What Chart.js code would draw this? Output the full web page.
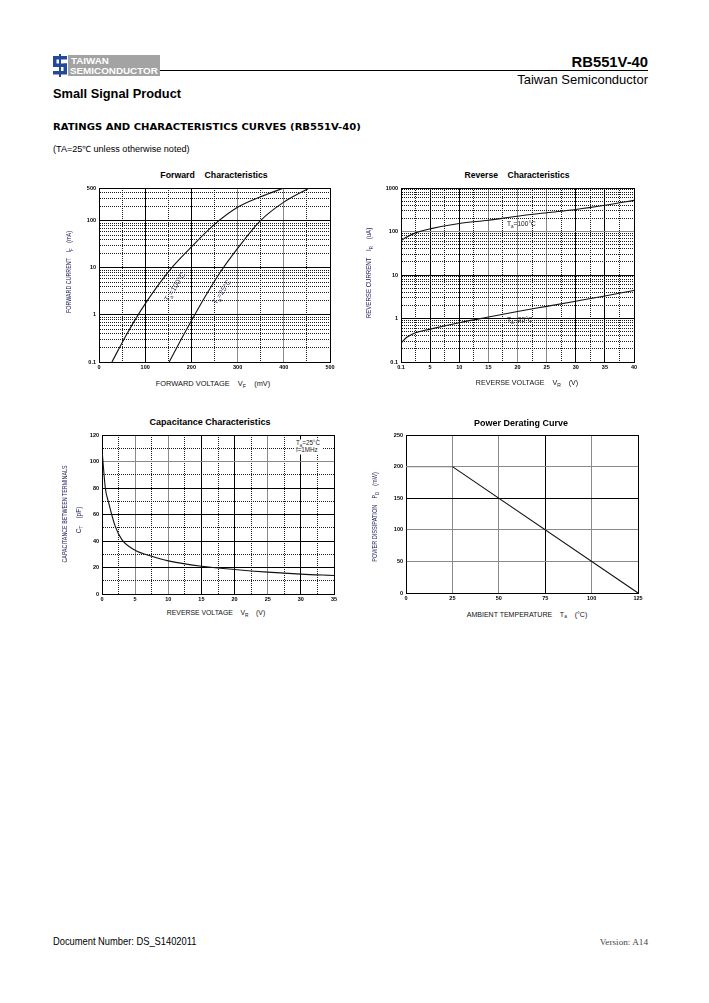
<!DOCTYPE html>
<html><head><meta charset="utf-8">
<script src="https://cdn.jsdelivr.net/npm/chart.js@4.4.1/dist/chart.umd.min.js"></script>
<style>
html,body{margin:0;padding:0;background:#fff;}
body{width:709px;height:1003px;position:relative;overflow:hidden;font-family:"Liberation Sans",Arial,sans-serif;color:#000;}
.t{position:absolute;white-space:pre;line-height:1;}
canvas{position:absolute;}
.sb{font-size:0.7em;position:relative;top:0.35em;}
</style></head><body>
<svg style="position:absolute;left:52px;top:54px" width="110" height="24">
  <rect x="16" y="1" width="92" height="21" fill="#a3a3a3"/>
  <g fill="#23499a">
    <rect x="1" y="2" width="14" height="3.5"/>
    <rect x="1" y="2" width="3.5" height="10"/>
    <rect x="1" y="9.5" width="14" height="3.5"/>
    <rect x="11.5" y="9.5" width="3.5" height="10"/>
    <rect x="1" y="17" width="14" height="3.5"/>
  </g>
  <rect x="7" y="0" width="2" height="23" fill="#23499a"/>
</svg>
<div style="position:absolute;left:160px;top:70px;width:488px;height:1px;background:#000"></div>
<canvas id="cFwd" width="271" height="196" style="left:69px;top:180px"></canvas>
<canvas id="cRev" width="273" height="196" style="left:371px;top:180px"></canvas>
<canvas id="cCap" width="272" height="181" style="left:72px;top:427px"></canvas>
<canvas id="cPwr" width="272" height="180" style="left:376px;top:427px"></canvas>
<script>
// ---------------- DATA ----------------
const fwdV_100 = [28, 60, 90, 125, 160, 200, 250, 300, 350, 400];
const fwdI_100 = [0.1, 0.39, 1.22, 3.9, 10.8, 28, 84, 194, 325, 500];
const fwdV_25  = [152, 180, 207, 235, 265, 300, 348, 400, 455];
const fwdI_25  = [0.1, 0.33, 1.0, 3.0, 8.8, 26, 98, 250, 500];
const fwdXTicks = [0, 100, 200, 300, 400, 500];
const fwdXLabels = ['0', '100', '200', '300', '400', '500'];
const fwdYTicks = [0.1, 1, 10, 100, 500];
const fwdYLabels = ['0.1', '1', '10', '100', '500'];

const revV     = [0.1, 1, 2.5, 5, 10, 15, 20, 25, 30, 35, 40];
const revI_100 = [63, 75, 93, 115, 153, 182, 225, 270, 320, 400, 520];
const revI_25  = [0.28, 0.37, 0.47, 0.57, 0.8, 1.08, 1.45, 1.9, 2.5, 3.3, 4.4];
const revXTicks = [0, 5, 10, 15, 20, 25, 30, 35, 40];
const revXLabels = ['0.1', '5', '10', '15', '20', '25', '30', '35', '40'];
const revYTicks = [0.1, 1, 10, 100, 1000];
const revYLabels = ['0.1', '1', '10', '100', '1000'];

const capV = [0.05, 0.5, 1, 2, 3, 5, 7.5, 10, 15, 20, 25, 30, 35];
const capC = [106, 80, 69, 51, 41, 33, 28.5, 25, 21, 18.5, 16.5, 15, 14];
const capXTicks = [0, 5, 10, 15, 20, 25, 30, 35];
const capXLabels = ['0', '5', '10', '15', '20', '25', '30', '35'];
const capYTicks = [0, 20, 40, 60, 80, 100, 120];
const capYLabels = ['0', '20', '40', '60', '80', '100', '120'];

const pwrT = [0, 25, 125];
const pwrP = [200, 200, 0];
const pwrXTicks = [0, 25, 50, 75, 100, 125];
const pwrXLabels = ['0', '25', '50', '75', '100', '125'];
const pwrYTicks = [0, 50, 100, 150, 200, 250];
const pwrYLabels = ['0', '50', '100', '150', '200', '250'];

// ---------------- HELPERS ----------------
function steps(a, b, s){ const r=[]; for(let v=a; v<=b+1e-9; v+=s) r.push(+v.toFixed(6)); return r; }
function logGrid(min, max){ const r=[]; for(let d=min; d<max*1.0001; d*=10){ for(let k=1;k<=9;k++){ const v=+(k*d).toPrecision(6); if(v<=max*1.0001) r.push(v);} } return r; }
function same(a,b){ return Math.abs(a-b) <= 1e-9*Math.max(1,Math.abs(b)); }
function labeler(ticks, labels){ return v => { const i = ticks.findIndex(t=>same(t,v)); return i>=0 ? labels[i] : ''; }; }
function pts(xs, ys){ return xs.map((x,i)=>({x:x, y:ys[i]})); }
const STY = { k:{c:'#000',d:[]}, g:{c:'#8a8a8a',d:[]}, d:{c:'#1a1a1a',d:[1,1]} };
const tickFont = {family:'"Liberation Sans", Arial, sans-serif', size:5.5, weight:'bold'};

function axis(pos, type, min, max, grid, ticks, labels, styleFn, fitSize){
  return {
    type: type, position: pos, min: min, max: max,
    afterBuildTicks: s => { s.ticks = grid.map(v => ({value: v})); },
    afterFit: s => { if (pos==='bottom') s.height = fitSize; else s.width = fitSize; },
    ticks: { callback: labeler(ticks, labels), autoSkip:false, maxRotation:0, minRotation:0,
             font: tickFont, color:'#000', padding: pos==='bottom'?2:3 },
    grid: { drawTicks:false, lineWidth:1,
            color: c => c.tick ? STY[styleFn(c.tick.value)].c : '#000' },
    border: { display:true, color:'#000', width:1,
              dash: c => c.tick ? STY[styleFn(c.tick.value)].d : [] }
  };
}
function lineDs(data, extra){ return Object.assign({data:data, borderColor:'#111', borderWidth:1.1, pointRadius:0, fill:false, cubicInterpolationMode:'monotone'}, extra||{}); }
function base(scales, datasets){
  return { type:'line', data:{datasets:datasets},
    options:{ responsive:false, animation:false, devicePixelRatio:1, parsing:true,
      layout:{padding:{top:8,right:10,left:0,bottom:0}},
      plugins:{legend:{display:false}, tooltip:{enabled:false}, title:{display:false}},
      scales: scales } };
}
const isDecade = v => same(Math.pow(10, Math.round(Math.log10(v))), v);

// ---------------- CHARTS ----------------
new Chart(document.getElementById('cFwd'), base({
  x: axis('bottom','linear',0,500, steps(0,500,50), fwdXTicks, fwdXLabels,
     v => (v%100===0) ? ((v===300||v===400)?'g':'k') : 'd', 14),
  y: axis('left','logarithmic',0.1,500, logGrid(0.1,500), fwdYTicks, fwdYLabels,
     v => (isDecade(v)||same(v,500)) ? 'k' : 'd', 30)
}, [lineDs(pts(fwdV_100, fwdI_100)), lineDs(pts(fwdV_25, fwdI_25))]));

new Chart(document.getElementById('cRev'), base({
  x: axis('bottom','linear',0,40, steps(0,40,2.5), revXTicks, revXLabels,
     v => (v%5===0) ? ((v===15||v===20||v===25)?'g':'k') : 'd', 14),
  y: axis('left','logarithmic',0.1,1000, logGrid(0.1,1000), revYTicks, revYLabels,
     v => isDecade(v) ? (same(v,100)?'g':'k') : 'd', 30)
}, [lineDs(pts(revV, revI_100)), lineDs(pts(revV, revI_25))]));

new Chart(document.getElementById('cCap'), base({
  x: axis('bottom','linear',0,35, steps(0,35,2.5), capXTicks, capXLabels,
     v => (v%5===0) ? ((v===5||v===10||v===25)?'g':'k') : 'd', 14),
  y: axis('left','linear',0,120, steps(0,120,10), capYTicks, capYLabels,
     v => (v%20===0) ? (v===100?'g':'k') : 'd', 30)
}, [lineDs(pts(capV, capC))]));

new Chart(document.getElementById('cPwr'), base({
  x: axis('bottom','linear',0,125, steps(0,125,25), pwrXTicks, pwrXLabels,
     v => (v===0||v===75||v===125)?'k':'g', 14),
  y: axis('left','linear',0,250, steps(0,250,50), pwrYTicks, pwrYLabels,
     v => (v===0||v===150||v===250)?'k':'g', 30)
}, [lineDs(pts(pwrT, pwrP), {cubicInterpolationMode:'default', tension:0,
     segment:{borderColor: c => c.p0DataIndex===0 ? '#8a8a8a' : '#111'}})]));

// ---------------- TEXT ----------------
const texts = [];
function txt(html, o){
  const el = document.createElement('div'); el.className='t'; el.innerHTML = html;
  el.style.left = o.x+'px'; el.style.top = o.y+'px';
  el.style.fontSize = o.size+'px';
  el.style.fontWeight = o.bold ? 'bold' : 'normal';
  el.style.fontFamily = o.fam || '"Liberation Sans", Arial, sans-serif';
  el.style.color = o.color || '#000';
  if (o.bg) { el.style.background = o.bg; el.style.padding = '1px 2px'; }
  document.body.appendChild(el);
  texts.push([el,o]);
}
function fit(){
  texts.forEach(([el,o])=>{
    const s = o.w ? o.w/el.offsetWidth : 1;
    const a = o.a || 'l';
    if (o.rot){ el.style.transformOrigin='center center'; el.style.transform=`translate(-50%,-50%) rotate(${o.rot}deg) scaleX(${s})`; }
    else if (a==='c'){ el.style.transformOrigin='center center'; el.style.transform=`translate(-50%,-50%) scaleX(${s})`; }
    else if (a==='r'){ el.style.transformOrigin='right center'; el.style.transform=`translate(-100%,-50%) scaleX(${s})`; }
    else { el.style.transformOrigin='left center'; el.style.transform=`translate(0,-50%) scaleX(${s})`; }
  });
}
const sub = s => `<span class="sb">${s}</span>`;
const NAVY = '#23235e';

txt('TAIWAN', {x:71, y:60.5, size:9, bold:true, color:'#fff', w:38});
txt('SEMICONDUCTOR', {x:70, y:71, size:9.5, bold:true, color:'#fff', w:88});
txt('RB551V-40', {x:648, y:61.5, size:14, bold:true, a:'r', w:76});
txt('Taiwan Semiconductor', {x:648, y:79, size:13, a:'r', w:131});
txt('Small Signal Product', {x:53, y:93.5, size:13.5, bold:true, w:128});
txt('RATINGS AND CHARACTERISTICS CURVES (RB551V-40)', {x:53, y:127, size:9, bold:true, fam:'"DejaVu Sans", sans-serif', w:308});
txt('(TA=25\u2103 unless otherwise noted)', {x:53, y:148.5, size:8.5, w:137});

txt('Forward    Characteristics', {x:214, y:175, size:8.5, bold:true, a:'c', w:107});
txt('Reverse    Characteristics', {x:516.5, y:175, size:8.5, bold:true, a:'c', w:105});
txt('Capacitance Characteristics', {x:209.5, y:421.5, size:8.5, bold:true, a:'c', w:121});
txt('Power Derating Curve', {x:521, y:423.3, size:8.5, bold:true, a:'c', w:94});

txt(`FORWARD VOLTAGE    V${sub('F')}    (mV)`, {x:213, y:384, size:6.5, a:'c', w:114, color:'#111'});
txt(`REVERSE VOLTAGE    V${sub('R')}    (V)`, {x:527, y:383, size:6.5, a:'c', w:102, color:'#111'});
txt(`REVERSE VOLTAGE    V${sub('R')}    (V)`, {x:216, y:613.3, size:6.5, a:'c', w:98, color:'#111'});
txt(`AMBIENT TEMPERATURE    T${sub('a')}    (\u00b0C)`, {x:526.5, y:614.5, size:6.5, a:'c', w:121, color:'#111'});

txt(`FORWARD CURRENT    I${sub('F')}    (mA)`, {x:69, y:272, size:6.5, rot:-90, w:82, color:NAVY});
txt(`REVERSE CURRENT    I${sub('R')}    (uA)`, {x:369, y:273, size:6.5, rot:-90, w:90, color:NAVY});
txt('CAPACITANCE BETWEEN TERMINALS', {x:65, y:513.5, size:6.5, rot:-90, w:97, color:NAVY});
txt(`C${sub('T')}    (pF)`, {x:79, y:520, size:6.5, rot:-90, w:27, color:NAVY});
txt(`POWER DISSIPATION    P${sub('D')}    (mW)`, {x:375, y:516.7, size:6.5, rot:-90, w:90, color:NAVY});

txt(`T${sub('a')}=100\u00b0C`, {x:175, y:287, size:7.5, rot:-57, w:33, color:'#3c3c5c'});
txt(`T${sub('a')}=25\u00b0C`, {x:222, y:292, size:7.5, rot:-57, w:28, color:'#3c3c5c'});
txt(`T${sub('a')}=100\u00b0C`, {x:507, y:224, size:7.5, w:29, color:'#222'});
txt(`T${sub('a')}=25\u00b0C`, {x:507, y:320, size:7.5, w:26, color:'#222'});
txt(`T${sub('a')}=25\u00b0C\nf=1MHz`, {x:294, y:447, size:6.5, w:28, color:'#222', bg:'#fff'});

txt('Document Number: DS_S1402011', {x:53, y:941, size:10.5, w:143});
txt('Version: A14', {x:648, y:942, size:9, a:'r', fam:'"Liberation Serif", serif', w:48, color:'#444'});

fit();
if (document.fonts && document.fonts.ready) document.fonts.ready.then(fit);
</script>
</body></html>
